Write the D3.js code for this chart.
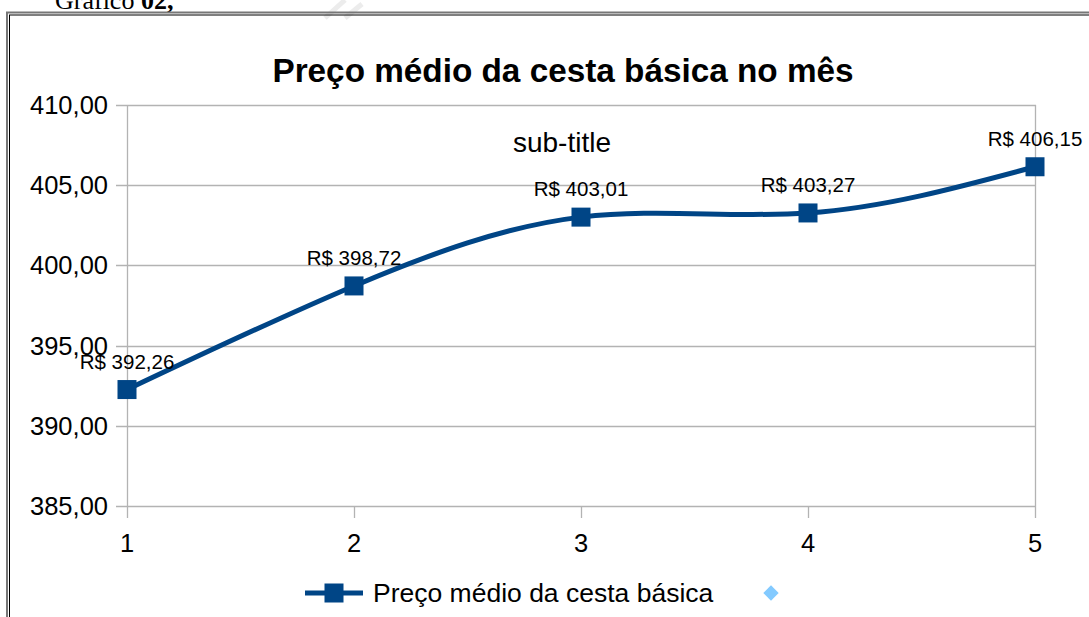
<!DOCTYPE html>
<html>
<head>
<meta charset="utf-8">
<script src="https://cdn.jsdelivr.net/npm/d3@7"></script>
<style>
  html, body { margin: 0; padding: 0; background: #fff; }
  svg { display: block; }
  text { font-family: "Liberation Sans", Arial, sans-serif; }
</style>
</head>
<body>
<svg id="chart" width="1089" height="617"></svg>
<script>
const categories = [1, 2, 3, 4, 5];
const values = [392.26, 398.72, 403.01, 403.27, 406.15];
const dataLabels = ["R$ 392,26", "R$ 398,72", "R$ 403,01", "R$ 403,27", "R$ 406,15"];
const yTicks = [385, 390, 395, 400, 405, 410];
const titleText = "Preço médio da cesta básica no mês";
const subtitleText = "sub-title";
const seriesName = "Preço médio da cesta básica";

const svg = d3.select("#chart");
const W = 1089, H = 617;
const blue = "#004586", grid = "#b3b3b3";

// caption above the frame (partially cut, as in the source page)
const cap = svg.append("text").attr("x", 55).attr("y", 9)
  .style("font-family", "'Liberation Serif', 'Times New Roman', serif")
  .style("font-size", "26px").attr("fill", "#000");
cap.append("tspan").text("Gráfico ");
cap.append("tspan").style("font-weight", "bold").text("02,");

// faint watermark fragment
svg.append("path").attr("d", "M325,18 L345,0 M345,18 L362,4")
  .attr("stroke", "#ececec").attr("stroke-width", 5).attr("fill", "none");

// frame (double line)
svg.append("rect").attr("x", 7).attr("y", 12.5).attr("width", W + 20).attr("height", H + 20)
  .attr("fill", "none").attr("stroke", "#777").attr("stroke-width", 2);
svg.append("rect").attr("x", 9.5).attr("y", 15).attr("width", W + 20).attr("height", H + 20)
  .attr("fill", "none").attr("stroke", "#000").attr("stroke-width", 1);

const x = d3.scalePoint().domain(categories).range([127, 1035]);
const y = d3.scaleLinear().domain([385, 410]).range([506, 105]);

// gridlines
const g = svg.append("g");
g.selectAll("line.grid").data(yTicks).join("line")
  .attr("x1", 116).attr("x2", 1036)
  .attr("y1", d => Math.round(y(d)) + 0.5).attr("y2", d => Math.round(y(d)) + 0.5)
  .attr("stroke", grid).attr("stroke-width", 1.3);

// y axis line and right border
[127, 1035].forEach(px => {
  g.append("line").attr("x1", px + 0.5).attr("x2", px + 0.5)
    .attr("y1", y(410)).attr("y2", 518).attr("stroke", grid).attr("stroke-width", 1.3);
});
// x ticks
g.selectAll("line.xt").data(categories.slice(1, 4)).join("line")
  .attr("x1", d => x(d) + 0.5).attr("x2", d => x(d) + 0.5)
  .attr("y1", 506).attr("y2", 518).attr("stroke", grid).attr("stroke-width", 1.3);

// y tick labels
const fmt = d => d3.format(".2f")(d).replace(".", ",");
svg.selectAll("text.yt").data(yTicks).join("text")
  .attr("x", 108).attr("y", d => y(d) + 9)
  .attr("text-anchor", "end").style("font-size", "25.5px").attr("fill", "#000")
  .text(fmt);

// x tick labels
svg.selectAll("text.xt").data(categories).join("text")
  .attr("x", d => x(d)).attr("y", 552)
  .attr("text-anchor", "middle").style("font-size", "25.5px").attr("fill", "#000")
  .text(d => d);

// title
svg.append("text").attr("x", 563).attr("y", 82).attr("text-anchor", "middle")
  .style("font-size", "33.3px").style("font-weight", "bold").attr("fill", "#000").text(titleText);
svg.append("text").attr("x", 562).attr("y", 152).attr("text-anchor", "middle")
  .style("font-size", "28px").attr("fill", "#000").text(subtitleText);

// line
const pts = categories.map((c, i) => [x(c), y(values[i])]);
svg.append("path").attr("d", d3.line().curve(d3.curveNatural)(pts))
  .attr("fill", "none").attr("stroke", blue).attr("stroke-width", 5);

// markers
const ms = 19;
svg.selectAll("rect.m").data(pts).join("rect")
  .attr("x", d => d[0] - ms / 2).attr("y", d => d[1] - ms / 2)
  .attr("width", ms).attr("height", ms).attr("fill", blue);

// data labels
svg.selectAll("text.dl").data(pts).join("text")
  .attr("x", d => d[0]).attr("y", d => d[1] - 21)
  .attr("text-anchor", "middle").style("font-size", "20.5px").attr("fill", "#000")
  .text((d, i) => dataLabels[i]);

// legend
const ly = 593;
svg.append("line").attr("x1", 305).attr("x2", 363).attr("y1", ly).attr("y2", ly)
  .attr("stroke", blue).attr("stroke-width", 5);
svg.append("rect").attr("x", 334 - ms / 2).attr("y", ly - ms / 2).attr("width", ms).attr("height", ms).attr("fill", blue);
svg.append("text").attr("x", 373).attr("y", ly + 9).style("font-size", "26.5px").attr("fill", "#000").text(seriesName);
svg.append("path").attr("d", d3.symbol().type(d3.symbolDiamond2).size(150)())
  .attr("transform", `translate(771,${ly})`).attr("fill", "#83caff");
</script>
</body>
</html>
